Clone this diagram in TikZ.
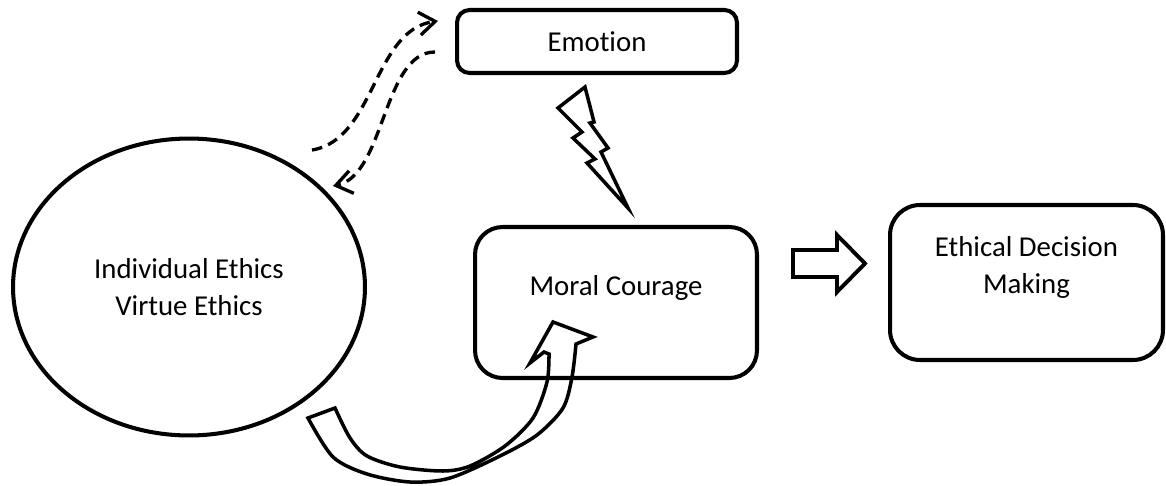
\documentclass[tikz,border=0pt]{standalone}
\usepackage{fontspec}
\setmainfont{Carlito}[Ligatures=NoCommon]
\usetikzlibrary{positioning, shapes.geometric, arrows.meta, calc}

\begin{document}
\begin{tikzpicture}[
      x=0.02cm, y=-0.02cm,
      font=\fontsize{16.4}{21}\selectfont,
      oval/.style={ellipse, draw, line width=2.3pt, minimum width=7.04cm, minimum height=5.94cm, align=center},
      card/.style={draw, line width=2.3pt, rounded corners=#1, align=center},
      dasharrow/.style={-{Straight Barb[length=0.32cm, width=0.46cm]}, line width=1.9pt, dash pattern=on 0.21cm off 0.13cm},
      outline/.style={draw, line width=2pt, line join=miter}
    ]
    \useasboundingbox (0,0) rectangle (1166,486);

    % Main nodes
    \node[oval] (ethics) at (189,287) {Individual Ethics\\Virtue Ethics};
    \node[card=0.25cm, minimum width=5.6cm, minimum height=1.26cm] (emotion) at (597,41.5) {Emotion};
    \node[card=0.55cm, minimum width=5.64cm, minimum height=3.02cm, text depth=0.69cm] (courage) at (616,302.5) {Moral Courage};
    \node[card=0.6cm, minimum width=5.46cm, minimum height=3.1cm, text depth=0.69cm] (decision) at (1026.5,282.5) {Ethical Decision\\Making};

    % Dashed arrows between ethics and emotion
    \draw[dasharrow] ($(ethics.center)+(123,-137)$) .. controls +(63,-10) and +(-65,9) .. ($(emotion.west)+(-17,-20.5)$);
    \draw[dasharrow] ($(emotion.west)+(-20,10.5)$) .. controls +(-52,0) and +(52,-11) .. ($(ethics.center)+(144,-101)$);

    % Lightning bolt from emotion to courage
    \draw[outline] (558,108) -- (585,87) -- (594,122) -- (590,123) -- (608,148) -- (601,152)
      -- (628,208) -- (587,163) -- (595,159) -- (573,138) -- (582,132) -- cycle;

    % Curved block arrow from ethics to courage
    \draw[outline] plot[smooth] coordinates {(308,418) (333,457) (367,474) (410,482) (450,478) (500,456) (537,435) (563,408) (572,377) (576,344)}
      -- (593,337) -- (553,322) -- (530,363) -- (544,352) -- (549,354)
      -- plot[smooth] coordinates {(549,354) (547,382) (533,418) (505,446) (470,466) (443,471) (400,467) (367,456) (350,438) (335,408)}
      -- cycle;

    % Block arrow from courage to decision
    \draw[outline, line width=2.2pt] (793,250) -- (837,250) -- (837,235) -- (865,263.5) -- (837,292) -- (837,277) -- (793,277) -- cycle;

  \end{tikzpicture}
\end{document}
